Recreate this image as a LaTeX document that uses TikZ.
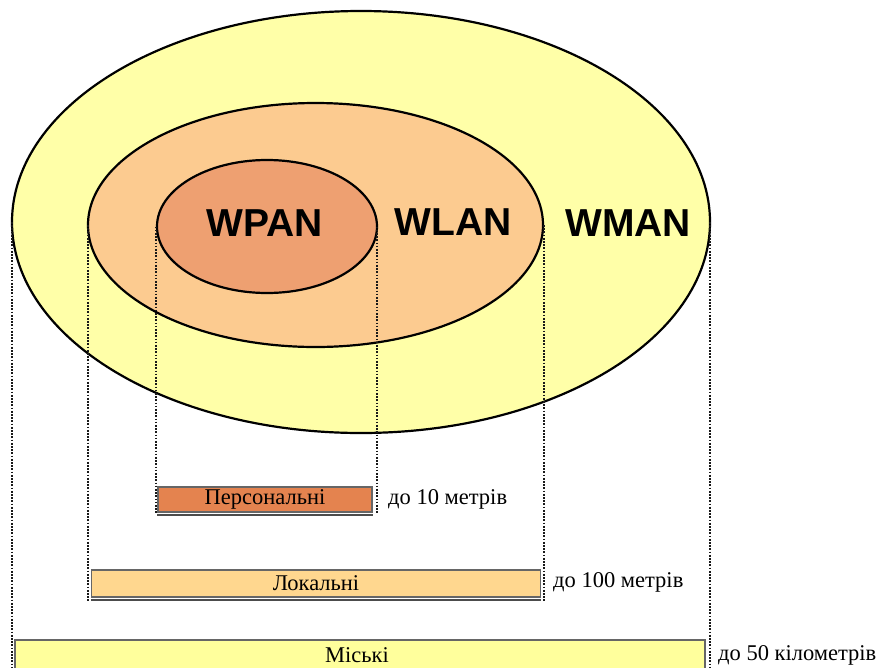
\documentclass[tikz,border=0pt]{standalone}
\usepackage{fontspec}
\setmainfont{Liberation Serif}
\newfontfamily\labfont{Liberation Sans}
\usetikzlibrary{shapes.geometric}
\definecolor{manfill}{HTML}{FFFFA8}
\definecolor{lanfill}{HTML}{FCCB90}
\definecolor{panfill}{HTML}{EEA071}
\definecolor{persbar}{HTML}{E4834F}
\definecolor{locbar}{HTML}{FFD78F}
\definecolor{misbar}{HTML}{FFFF9C}
\tikzset{
  zone/.style={ellipse, draw=black, line width=2.2pt, inner sep=0pt},
  netlabel/.style={font={\labfont\bfseries\fontsize{39}{44}\selectfont}, text=black},
  dotline/.style={line width=2pt, dash pattern=on 1.7pt off 1.5pt, black!90},
  bar/.style={draw=black!60, line width=1.2pt, inner sep=0pt, font=\fontsize{22.5}{24}\selectfont, text=black},
  barshadow/.style={line width=2.2pt, black!70},
  rangelabel/.style={anchor=west, inner sep=0pt, font=\fontsize{22.5}{24}\selectfont, text=black}
}
\begin{document}
\begin{tikzpicture}[x=1pt,y=1pt]
\useasboundingbox (0,0) rectangle (882,-667);
\clip (0,0) rectangle (882,-667);
% ellipses
\node[zone, fill=manfill, minimum width=698pt, minimum height=422pt] (wman) at (361,-222) {};
\node[zone, fill=lanfill, minimum width=455pt, minimum height=244pt] (wlan) at (315.5,-225) {};
\node[zone, fill=panfill, minimum width=220pt, minimum height=133pt] (wpan) at (267,-226.5) {};
% labels
\node[netlabel] (tpan) at (265,-223) {WPAN};
\node[netlabel] (tlan) at (453,-222) {WLAN};
\node[netlabel] (tman) at (628,-223) {WMAN};
% bars
\node[bar, fill=persbar, minimum width=214pt, minimum height=25pt] (pers) at (265,-499.5) {Персональні};
\node[bar, fill=locbar, minimum width=449pt, minimum height=27pt] (loc) at (316,-583.5) {Локальні};
\node[bar, fill=misbar, minimum width=690pt, minimum height=30pt] (mis) at (360,-655) {};
\node[font=\fontsize{22.5}{24}\selectfont, inner sep=0pt] (mist) at (357,-655.5) {Міські};
\draw[barshadow] ([yshift=-2.5pt]pers.south west) -- ([yshift=-2.5pt]pers.south east);
\draw[barshadow] ([yshift=-2.5pt]loc.south west) -- ([yshift=-2.5pt]loc.south east);
% range labels
\node[rangelabel] (rpers) at (388,-499) {до 10 метрів};
\node[rangelabel] (rloc) at (553,-582) {до 100 метрів};
\node[rangelabel] (rmis) at (718,-655) {до 50 кілометрів};
% dotted guide lines
\coordinate (pbot) at (0,-514);
\coordinate (lbot) at (0,-601);
\coordinate (mbot) at (0,-667);
\draw[dotline] (wpan.west) -- (wpan.west |- pbot);
\draw[dotline] ([xshift=-1pt]wpan.east) -- ([xshift=-1pt]wpan.east |- pbot);
\draw[dotline] ([xshift=1.5pt]wlan.west) -- ([xshift=1.5pt]wlan.west |- lbot);
\draw[dotline] (wlan.east) -- (wlan.east |- lbot);
\draw[dotline] ([xshift=1pt]wman.west) -- ([xshift=1pt]wman.west |- mbot);
\draw[dotline] ([xshift=-1pt]wman.east) -- ([xshift=-1pt]wman.east |- mbot);
\end{tikzpicture}
\end{document}
